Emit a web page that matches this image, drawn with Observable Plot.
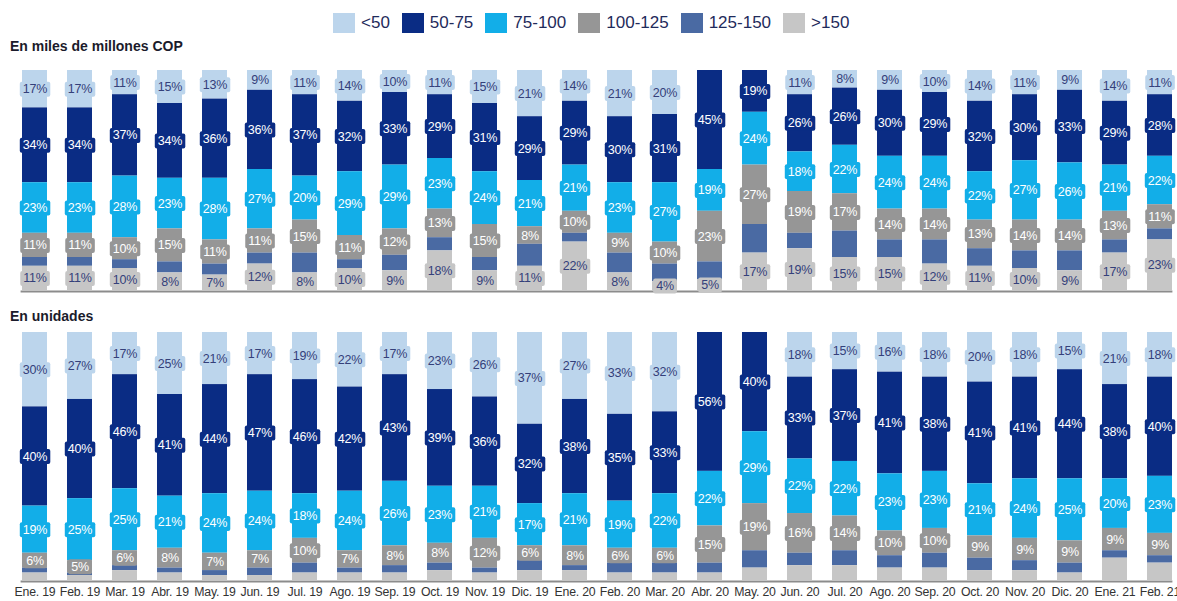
<!DOCTYPE html>
<html><head><meta charset="utf-8">
<script src="https://cdn.jsdelivr.net/npm/d3@7"></script>
<script src="https://cdn.jsdelivr.net/npm/@observablehq/plot@0.6"></script>
<style>
body{margin:0;background:#fff;font-family:"Liberation Sans",Arial,sans-serif;width:1177px;height:601px;overflow:hidden;position:relative}
#legend{position:absolute;left:333px;top:13px;display:flex;align-items:center;font-size:17px;color:#1f2b5b}
.item{display:flex;align-items:center;margin-right:12px}
.sw{width:22px;height:20px;margin-right:6px}
.ttl{position:absolute;left:10px;font-weight:bold;font-size:14px;color:#1b1b2b}
#panelTop{position:absolute;left:0;top:60px}
#panelBot{position:absolute;left:0;top:322px}
</style></head><body>
<div id="legend"></div>
<div class="ttl" style="top:38px">En miles de millones COP</div>
<div id="panelTop"></div>
<div class="ttl" style="top:308px">En unidades</div>
<div id="panelBot"></div>
<script>
const months = ["Ene. 19","Feb. 19","Mar. 19","Abr. 19","May. 19","Jun. 19","Jul. 19","Ago. 19","Sep. 19","Oct. 19","Nov. 19","Dic. 19","Ene. 20","Feb. 20","Mar. 20","Abr. 20","May. 20","Jun. 20","Jul. 20","Ago. 20","Sep. 20","Oct. 20","Nov. 20","Dic. 20","Ene. 21","Feb. 21"];
const categories = ["<50","50-75","75-100","100-125","125-150",">150"];
const stackOrder = [">150","125-150","100-125","75-100","50-75","<50"];
const colors = ["#bcd5ec","#0a2c84","#12aee8","#969696","#4a6aa3","#c6c6c6"];
const textColors = ["#34407a","#ffffff","#ffffff","#ffffff","#ffffff","#34407a"];

// En miles de millones COP
const copLt50   = [17,17,11,15,13,9,11,14,10,11,15,21,14,21,20,0,0,11,8,9,10,14,11,9,14,11];
const cop50_75  = [34,34,37,34,36,36,37,32,33,29,31,29,29,30,31,45,19,26,26,30,29,32,30,33,29,28];
const cop75_100 = [23,23,28,23,28,27,20,29,29,23,24,21,21,23,27,19,24,18,22,24,24,22,27,26,21,22];
const cop100_125= [11,11,10,15,11,11,15,11,12,13,15,8,10,9,10,23,27,19,17,14,14,13,14,14,13,11];
const cop125_150= [4,4,4,5,5,5,9,4,7,6,6,10,4,9,8,8,13,7,12,8,11,8,8,9,6,5];
const copGt150  = [11,11,10,8,7,12,8,10,9,18,9,11,22,8,4,5,17,19,15,15,12,11,10,9,17,23];

// En unidades
const uniLt50   = [30,27,17,25,21,17,19,22,17,23,26,37,27,33,32,0,0,18,15,16,18,20,18,15,21,18];
const uni50_75  = [40,40,46,41,44,47,46,42,43,39,36,32,38,35,33,56,40,33,37,41,38,41,41,44,38,40];
const uni75_100 = [19,25,25,21,24,24,18,24,26,23,21,17,21,19,22,22,29,22,22,23,23,21,24,25,20,23];
const uni100_125= [6,5,6,8,7,7,10,7,8,8,12,6,8,6,6,15,19,16,14,10,10,9,9,9,9,9];
const uni125_150= [2,1,2,2,2,3,4,2,3,3,2,4,2,4,4,4,7,5,6,5,6,5,4,4,3,3];
const uniGt150  = [3,2,4,3,2,2,3,3,3,4,3,4,4,3,3,3,5,6,6,5,5,4,4,3,9,7];

const colorOf = Object.fromEntries(categories.map((c,i)=>[c,colors[i]]));
const textColorOf = Object.fromEntries(categories.map((c,i)=>[c,textColors[i]]));

// legend
const leg = document.getElementById("legend");
categories.forEach((c,i)=>{
  const it = document.createElement("div"); it.className="item";
  const sw = document.createElement("div"); sw.className="sw"; sw.style.background=colors[i];
  const tx = document.createElement("span"); tx.textContent=c;
  it.appendChild(sw); it.appendChild(tx); leg.appendChild(it);
});

function panel(series, labeled, height, mb, showAxis){
  const rows = [];
  months.forEach((m,i)=>categories.forEach((c,j)=>rows.push({month:m, cat:c, value:series[j][i]})));
  const so = {x:"month", y:"value", z:"cat", order:stackOrder};
  return Plot.plot({
    width:1177, height, marginTop:10, marginBottom:mb, marginLeft:20.6, marginRight:4.6,
    style:{fontFamily:'"Liberation Sans",Arial,sans-serif', fontSize:"12.3px", color:"#333", background:"transparent", letterSpacing:"-0.2px"},
    x:{domain:months, paddingInner:0.45, paddingOuter:0, align:0.5, label:null,
       axis: showAxis ? "bottom" : null, tickSize:0, tickPadding:7},
    y:{domain:[0,100], axis:null},
    color:{type:"identity"},
    marks:[
      Plot.barY(rows, Plot.stackY({...so, fill:d=>colorOf[d.cat]})),
      Plot.ruleY([0], {stroke:"#8c8c8c", strokeWidth:2, dy:1}),
      Plot.text(rows, Plot.stackY({...so,
        text:d=> (labeled.includes(d.cat) && d.value>0) ? d.value+"%" : null,
        fill:d=>textColorOf[d.cat], stroke:d=>colorOf[d.cat], strokeWidth:0, fontSize:12.5}))
    ]
  });
}

function boxes(svg){
  svg.querySelectorAll('g[aria-label="text"] text').forEach(t=>{
    const b = t.getBBox();
    const r = document.createElementNS("http://www.w3.org/2000/svg","rect");
    r.setAttribute("x", b.x-3); r.setAttribute("y", b.y-0.5);
    r.setAttribute("width", b.width+6); r.setAttribute("height", b.height+1);
    r.setAttribute("rx", 2);
    r.setAttribute("fill", t.getAttribute("stroke"));
    r.setAttribute("stroke", "none");
    const tr = t.getAttribute("transform"); if (tr) r.setAttribute("transform", tr);
    t.parentNode.insertBefore(r, t);
  });
}

const chartTop = panel([copLt50,cop50_75,cop75_100,cop100_125,cop125_150,copGt150],
  ["<50","50-75","75-100","100-125",">150"], 240, 10, false);
document.getElementById("panelTop").appendChild(chartTop);
boxes(chartTop);

const chartBot = panel([uniLt50,uni50_75,uni75_100,uni100_125,uni125_150,uniGt150],
  ["<50","50-75","75-100","100-125"], 279, 21, true);
document.getElementById("panelBot").appendChild(chartBot);
boxes(chartBot);
</script>
</body></html>
